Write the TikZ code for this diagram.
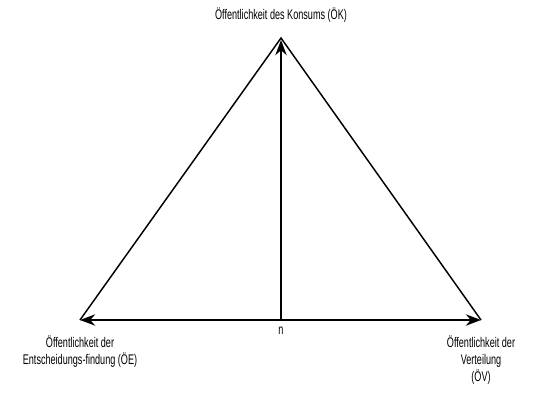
\documentclass[tikz,border=0pt]{standalone}
\usepackage{fontspec}
\setmainfont[FakeStretch=0.65]{Liberation Sans}
\usetikzlibrary{positioning,arrows.meta}
\tikzset{
  side/.style  = {draw=black, line width=1.1pt},
  axis/.style  = {-{Stealth[length=4mm,width=3mm]}, draw=black, line width=1.1pt},
  both/.style  = {{Stealth[length=4mm,width=3mm]}-{Stealth[length=4mm,width=3mm]}, draw=black, line width=1.1pt},
  lbl/.style   = {font=\fontsize{10.5}{12.75}\selectfont, text=black, align=center, inner sep=1pt},
}
\begin{document}
\begin{tikzpicture}[x=0.75pt,y=-0.75pt]
  \useasboundingbox (0,0) rectangle (534,393);

  % corners
  \coordinate (ok) at (281,38);
  \coordinate (oe) at (80,320);
  \coordinate (ov) at (481,320);
  \coordinate (mid) at (281,320);

  % triangle
  \draw[side] (oe) -- (ok) -- (ov);
  \draw[both] (oe) -- (ov);
  \draw[axis] (mid) -- ([yshift=-1.5pt]ok);

  % labels
  \node[lbl] (okl) at (281,15) {Öffentlichkeit des Konsums (ÖK)};
  \node[lbl] (oel) at (80,351.5) {Öffentlichkeit der\\Entscheidungs-findung (ÖE)};
  \node[lbl] (ovl) at (481,360) {Öffentlichkeit der\\Verteilung\\(ÖV)};
  \node[lbl] (n) at (281,331) {n};
\end{tikzpicture}
\end{document}
